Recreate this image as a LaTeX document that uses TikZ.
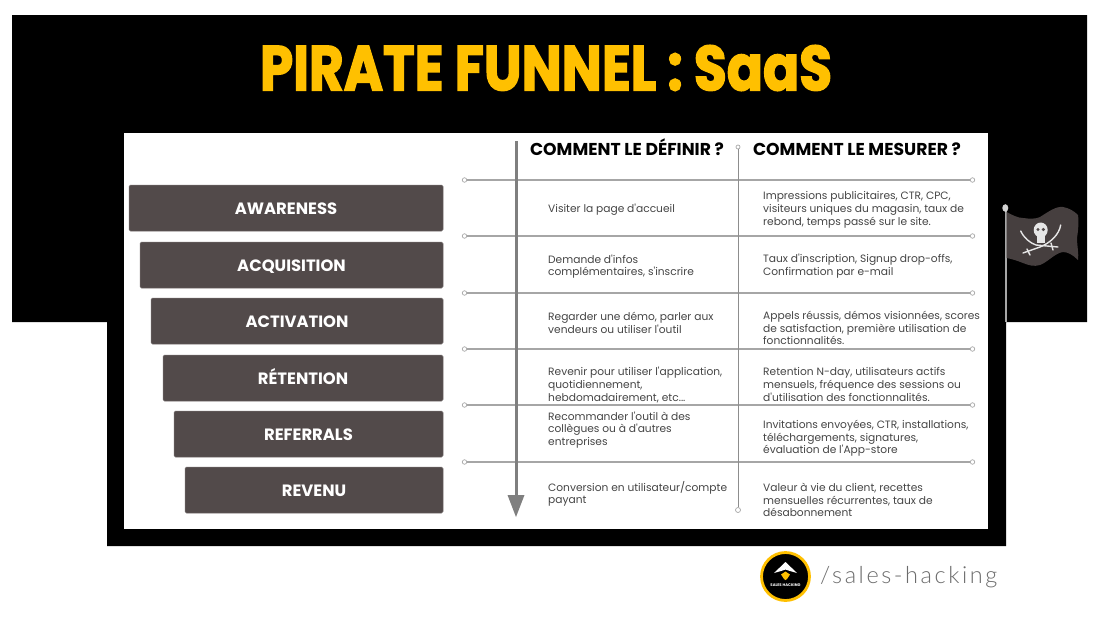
\documentclass[tikz,border=0pt]{standalone}
\usepackage{fontspec}
\usepackage{graphicx}
\setmainfont[Ligatures=TeXOff]{Poppins}
\newfontfamily\titlefont[FakeBold=2.5]{Poppins Bold}
\newfontfamily\handlefont[LetterSpace=11]{Lato Light}
\definecolor{barcol}{HTML}{524A4A}
\definecolor{gold}{HTML}{FFC000}
\definecolor{rulecol}{HTML}{A6A6A6}
\definecolor{axiscol}{HTML}{7F7F7F}
\definecolor{bodycol}{HTML}{454545}
\definecolor{boneCol}{HTML}{E6E6E6}
\tikzset{
  funnelbar/.style={fill=barcol,draw=barcol!80!white,line width=0.5pt,rounded corners=1.5pt},
  barlabel/.style={text=white,font=\fontsize{16.4}{18}\selectfont\bfseries,inner sep=0pt,anchor=base},
  colhead/.style={text=black,font=\fontsize{17.2}{19}\selectfont\bfseries,inner sep=0pt,anchor=base},
  body/.style={text=bodycol,font=\fontsize{10.65}{12.7}\selectfont,align=left,anchor=west,inner sep=0pt},
  sepline/.style={draw=rulecol,line width=1.3pt},
  endring/.style={circle,draw=rulecol,fill=white,line width=0.7pt,minimum size=4.5pt,inner sep=0pt},
  sabre/.style={draw=boneCol,line width=1.4pt,line cap=round},
}
\begin{document}
\begin{tikzpicture}[x=1pt,y=-1pt]
\useasboundingbox (0,0) rectangle (1100,619);
\fill[white] (0,0) rectangle (1100,619);
% black frame
\fill[black] (12,15) -- (1087,15) -- (1087,322) -- (1006,322) -- (1006,546) -- (107,546) -- (107,322) -- (12,322) -- cycle;
\fill[white] (124,133) rectangle (988,529);
% title
\node[text=gold,inner sep=0pt] (title) at (546,68) {\resizebox{572pt}{45pt}{\titlefont PIRATE FUNNEL : SaaS}};
% funnel bars
\foreach \n/\xl/\yt/\lab in {a/129/185/AWARENESS,b/140/242/ACQUISITION,c/151/298/ACTIVATION,d/163/355/RÉTENTION,e/174/411/REFERRALS,f/185/467/REVENU}{
  \draw[funnelbar] (\xl,\yt) rectangle (443,\yt+46);
  \node[barlabel] (bar\n) at ({(\xl+443)/2},\yt+29) {\lab};
}
% separators
\foreach \n/\y in {1/180,2/236,3/293,4/349,5/405,6/462}{
  \node[endring] (ll\n) at (464.5,\y) {};
  \node[endring] (rr\n) at (972.5,\y) {};
  \draw[sepline] (ll\n) -- (rr\n);
}
% axes
\node[endring,minimum size=4pt] (vt) at (738,147) {};
\node[endring,minimum size=5pt] (vb) at (738,510) {};
\draw[draw=rulecol!85!black,line width=1pt] (vt) -- (vb);
\coordinate (at) at (516,141);
\coordinate (ab) at (516,517);
\coordinate (an) at (516,495);
\draw[draw=axiscol,line width=3pt] (at) -- (an);
\fill[axiscol] (507.5,495) -- (524.5,495) -- (ab) -- cycle;
% headers
\node[colhead] (h1) at (627,155.5) {COMMENT LE DÉFINIR ?};
\node[colhead] (h2) at (857,155.5) {COMMENT LE MESURER ?};
% left column
\node[body] (l1) at (548,210) {Visiter la page d'accueil};
\node[body] (l2) at (548,266.5) {Demande d'infos\\complémentaires, s'inscrire};
\node[body] (l3) at (548,323) {Regarder une démo, parler aux\\vendeurs ou utiliser l'outil};
\node[body] (l4) at (548,385) {Revenir pour utiliser l'application,\\quotidiennement,\\hebdomadairement, etc...};
\node[body] (l5) at (548,430) {Recommander l'outil à des\\collègues ou à d'autres\\entreprises};
\node[body] (l6) at (548,494) {Conversion en utilisateur/compte\\payant};
% right column
\node[body] (r1) at (763,210) {Impressions publicitaires, CTR, CPC,\\visiteurs uniques du magasin, taux de\\rebond, temps passé sur le site.};
\node[body] (r2) at (763,266) {Taux d'inscription, Signup drop-offs,\\Confirmation par e-mail};
\node[body] (r3) at (763,328) {Appels réussis, démos visionnées, scores\\de satisfaction, première utilisation de\\fonctionnalités.};
\node[body] (r4) at (763,384.5) {Retention N-day, utilisateurs actifs\\mensuels, fréquence des sessions ou\\d'utilisation des fonctionnalités.};
\node[body] (r5) at (763,438.5) {Invitations envoyées, CTR, installations,\\téléchargements, signatures,\\évaluation de l'App-store};
\node[body] (r6) at (763,500) {Valeur à vie du client, recettes\\mensuelles récurrentes, taux de\\désabonnement};
% flag
\draw[draw=gray!70!white,line width=2pt] (1005.5,208) -- (1005.5,322);
\fill[gray!35!white] (1005.3,208) ellipse (3 and 3.8);
\fill[barcol!85!black] (1006.7,212) .. controls (1012,215) and (1018,218) .. (1023,218)
  .. controls (1030,219) and (1036,219) .. (1040,217)
  .. controls (1048,212) and (1056,206) .. (1063,207)
  .. controls (1069,208) and (1074,211) .. (1078,215)
  .. controls (1079,222) and (1078,232) .. (1077,238)
  .. controls (1077,246) and (1079,254) .. (1078,260)
  .. controls (1073,255) and (1068,252) .. (1063,252)
  .. controls (1055,253) and (1048,262) .. (1040,265)
  .. controls (1034,267) and (1028,265) .. (1023,263)
  .. controls (1018,261) and (1012,259) .. (1006.7,258) -- cycle;
\fill[boneCol] (1040.7,230) ellipse (7 and 7.5);
\fill[boneCol] (1036.7,235) rectangle (1044.7,243);
\fill[barcol] (1038,229.5) circle (1.7) (1043.4,229.5) circle (1.7);
\draw[sabre] (1020.7,231) .. controls (1024,238) and (1030,243) .. (1036,245) -- (1058,247);
\draw[sabre] (1060.7,225) .. controls (1059,235) and (1050,243) .. (1040,247) -- (1023,253);
\draw[sabre] (1027,249) -- (1030,255);
\draw[sabre] (1051,243) -- (1053,250);
% logo
\node[circle,fill=black,draw=gold,line width=2.8pt,minimum size=48pt,inner sep=0pt] (logo) at (785.5,576.5) {};
\fill[white] (785.5,562) -- (797,573) -- (790,571) -- (785.5,569.5) -- (781,571) -- (774,573) -- cycle;
\fill[gold] (785.5,571.5) -- (790,574.5) -- (787,579) -- (785.5,580) -- (784,579) -- (781,574.5) -- cycle;
\node[text=white,font=\fontsize{3.8}{4}\selectfont\bfseries,inner sep=0pt] (logotext) at (785.5,585) {SALES HACKING};
% handle
\node[text=gray!85!black,font=\fontsize{23.5}{25}\handlefont,anchor=west,inner sep=0pt] (handle) at (820,577) {/sales-hacking};
\end{tikzpicture}
\end{document}
